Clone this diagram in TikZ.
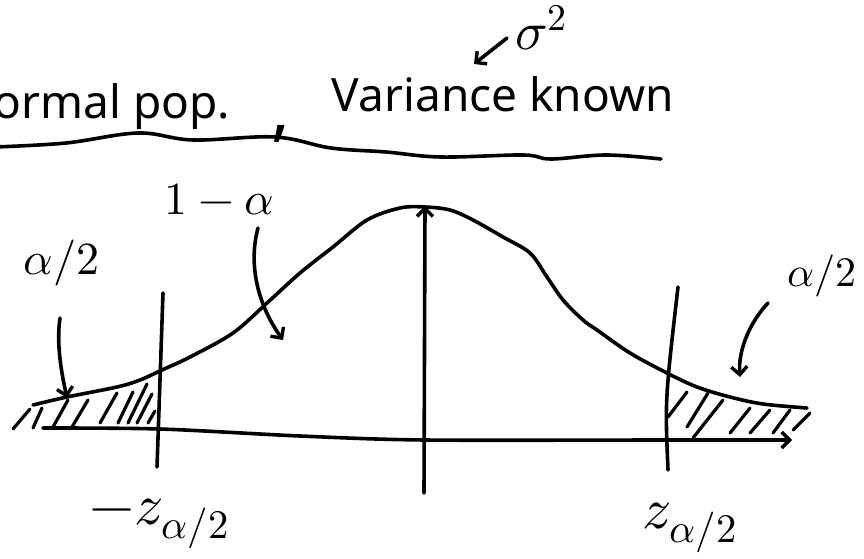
\documentclass[tikz,border=0pt]{standalone}
\usepackage{fontspec}
\usepackage{unicode-math}
\setmainfont{Noto Sans}
\setmathfont{Latin Modern Math}
\usetikzlibrary{arrows.meta}
\begin{document}
\begin{tikzpicture}[x=1pt,y=-1pt,line width=3.6pt,line cap=round,line join=round,
  barb/.style={-{Straight Barb[length=8pt,width=16pt,line width=3.4pt]}},
  hatchline/.style={line width=3.2pt},
  head/.style={inner sep=0pt,font=\fontsize{46}{52}\selectfont},
  lbl/.style={inner sep=0pt,font=\fontsize{46}{52}\selectfont},
  zlbl/.style={inner sep=0pt,font=\fontsize{58}{64}\selectfont}]
\useasboundingbox (0,0) rectangle (864,559);
\clip (0,0) rectangle (864,559);

% ---------- header ----------
\node[head,anchor=base east] (pop) at (232,118) {Normal pop.};
\node[inner sep=0pt,font=\fontsize{70}{70}\selectfont,anchor=base] (comma) at (281,133) {,};
\node[head,anchor=base west] (var) at (330,112) {Variance known};
\node[inner sep=0pt,font=\fontsize{54}{60}\selectfont,anchor=base west] (sig) at (514,50) {$\sigma^2$};
\coordinate (sa) at (507,38);
\coordinate (sb) at (474,64);
\draw[barb] (sa) -- (sb);
\draw plot[smooth,tension=0.6] coordinates {(-5,147) (66,143) (138,133) (193,140) (275,137) (331,148) (386,152) (441,157) (523,155) (551,159) (606,155) (661,159)};

% ---------- axes ----------
\draw[barb] plot[smooth,tension=0.5] coordinates {(43,428) (160,429) (300,436) (425,440) (668,440) (792,440)};
\coordinate (m0) at (424,493);
\coordinate (m1) at (425,206);
\draw[barb] (m0) -- (m1);
\coordinate (lz0) at (157,467);
\coordinate (lz1) at (163,293);
\draw (lz0) -- (lz1);
\coordinate (rz0) at (668,470);
\coordinate (rz1) at (678,287);
\draw (rz0) .. controls (665,400) .. (rz1);

% ---------- bell curve ----------
\draw plot[smooth,tension=0.55] coordinates {(33,405) (67,397) (117,387) (140,380) (162,370) (190,357) (233,333) (267,303) (300,273) (333,247) (367,220) (400,208) (425,207) (450,210) (473,220) (503,237) (530,253) (547,277) (563,300) (583,320) (597,330) (630,353) (667,373) (697,387) (730,397) (763,404) (807,408)};

% ---------- hatching ----------
\begin{scope}[hatchline]
\draw (13,429) -- (30,409);
\draw (33,428) -- (42,408);
\draw (53,427) -- (68,400);
\draw (72,427) -- (88,400);
\draw (100,423) -- (117,393);
\draw (118,423) -- (133,392);
\draw (128,423) -- (147,384);
\draw (137,423) -- (152,394);
\draw (148,423) -- (155,411);
\draw (668,417) -- (687,392);
\draw (687,427) -- (708,393);
\draw (693,438) -- (723,400);
\draw (730,433) -- (750,408);
\draw (750,433) -- (770,410);
\draw (773,433) -- (790,410);
\draw (793,430) -- (810,413);
\end{scope}

% ---------- labels ----------
\node[lbl,anchor=base west] (aL) at (22,274) {$\alpha/2$};
\node[lbl,anchor=base west] (onem) at (163,214) {$1-\alpha$};
\node[inner sep=0pt,font=\fontsize{42}{48}\selectfont] (aR) at (822,276) {$\alpha/2$};
\node[zlbl,anchor=base west] (zl) at (88,524) {$-z_{\alpha/2}$};
\node[zlbl,anchor=base west] (zr) at (641,528) {$z_{\alpha/2}$};

% ---------- pointer arrows ----------
\coordinate (pL0) at (60,318);
\coordinate (pL1) at (67,398);
\draw[barb] (pL0) .. controls (56,345) and (62,375) .. (pL1);
\coordinate (pM0) at (258,228);
\coordinate (pM1) at (283,340);
\draw[barb] (pM0) .. controls (248,265) and (258,305) .. (pM1);
\coordinate (pR0) at (768,303);
\coordinate (pR1) at (740,377);
\draw[barb] (pR0) .. controls (750,322) and (738,350) .. (pR1);
\end{tikzpicture}
\end{document}
